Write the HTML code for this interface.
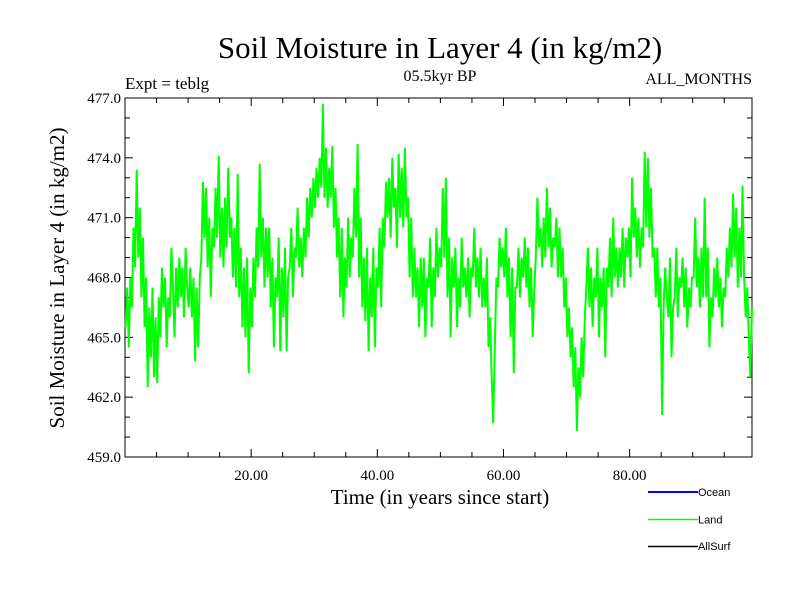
<!DOCTYPE html>
<html><head><meta charset="utf-8"><style>
body{margin:0;background:#fff}
svg text{font-family:"Liberation Serif",serif}
</style></head><body>
<svg id="chart" width="800" height="600" viewBox="0 0 800 600" xmlns="http://www.w3.org/2000/svg">
<rect width="800" height="600" fill="#fff"/>
<text x="440" y="58" font-size="31" text-anchor="middle">Soil Moisture in Layer 4 (in kg/m2)</text>
<text x="125" y="89" font-size="17">Expt = teblg</text>
<text x="440" y="81" font-size="16" text-anchor="middle">05.5kyr BP</text>
<text x="752" y="84" font-size="16" text-anchor="end">ALL_MONTHS</text>
<text transform="translate(64,278) rotate(-90)" font-size="21" text-anchor="middle">Soil Moisture in Layer 4 (in kg/m2)</text>
<text x="440" y="504" font-size="21" text-anchor="middle">Time (in years since start)</text>
<g id="axes"></g>
<g id="series"></g>
<g>
<line x1="648" y1="492" x2="698" y2="492" stroke="#0000ff" stroke-width="2"/>
<text x="698" y="496" font-size="11" style="font-family:'Liberation Sans',sans-serif">Ocean</text>
<line x1="648" y1="519.5" x2="698" y2="519.5" stroke="#00ff00" stroke-width="1.5"/>
<text x="698" y="523.5" font-size="11" style="font-family:'Liberation Sans',sans-serif">Land</text>
<line x1="648" y1="546.5" x2="698" y2="546.5" stroke="#000000" stroke-width="1.5"/>
<text x="698" y="550" font-size="11" style="font-family:'Liberation Sans',sans-serif">AllSurf</text>
</g>
</svg>
<script>
const yTicks = [459, 462, 465, 468, 471, 474, 477];
const yTickLabels = ["459.0","462.0","465.0","468.0","471.0","474.0","477.0"];
const xTicks = [20, 40, 60, 80];
const xTickLabels = ["20.00","40.00","60.00","80.00"];
const landValues = [
465.5,467.5,464.5,468.0, 466.5,470.5,468.5,473.4, 469.0,471.5,467.0,470.0, 465.5,468.0,462.5,466.5,
464.0,467.5,463.0,466.0, 462.7,467.0,465.0,468.5, 466.5,468.0,464.5,467.0, 466.0,469.5,467.5,465.0,
468.5,466.5,469.0,467.0, 468.5,466.0,469.5,467.5, 466.5,468.5,466.0,468.0, 463.8,467.5,464.5,468.0,
469.0,472.8,470.0,472.5, 468.5,471.0,467.0,470.5, 469.5,472.5,470.0,474.1, 469.0,471.5,468.5,472.0,
469.5,473.5,470.0,471.0, 468.0,470.5,467.5,473.2, 467.0,469.5,465.5,468.5, 465.0,469.0,463.2,467.5,
465.5,469.0,467.0,470.5, 468.5,473.7,469.0,471.0, 467.5,470.5,468.0,470.5, 466.5,469.0,464.5,468.0,
467.0,470.0,464.3,468.5, 466.0,469.5,464.3,468.0, 468.5,470.5,467.0,469.5, 469.0,471.5,468.5,470.0,
468.0,470.5,469.0,472.0, 470.0,472.5,471.0,473.0, 471.5,473.5,472.0,474.0, 472.5,476.7,472.0,474.5,
471.5,473.5,472.0,474.6, 470.5,472.5,469.0,471.0, 467.0,470.5,466.0,469.0, 467.5,471.0,468.0,470.0,
469.0,472.5,470.0,474.7, 468.0,471.0,466.5,469.0, 465.8,469.5,464.3,468.0, 466.0,469.5,464.5,468.5,
467.5,470.5,466.5,471.0, 469.5,472.8,471.0,473.0, 470.0,474.0,471.5,472.5, 469.5,474.2,471.0,473.5,
470.5,474.5,471.0,472.0, 468.0,471.0,467.0,469.5, 467.0,468.5,465.5,469.0, 466.5,469.0,465.0,468.0,
467.5,470.0,465.5,468.5, 467.0,470.5,468.0,469.5, 468.5,472.5,469.0,473.0, 467.0,470.0,465.0,469.0,
467.5,469.5,465.5,468.0, 466.5,470.0,467.5,468.5, 467.0,469.0,466.0,468.5, 468.0,470.5,467.5,469.0,
467.0,469.5,466.5,468.0, 466.5,469.0,464.5,466.0, 463.0,460.7,464.5,468.0, 467.5,470.0,468.5,469.5,
468.0,470.5,467.0,469.0, 465.0,468.5,463.2,467.5, 467.5,469.5,467.0,469.0, 468.0,470.0,467.5,469.5,
466.5,468.5,465.0,467.5, 469.0,472.0,469.5,470.5, 468.5,471.0,469.0,472.5, 469.5,471.5,468.5,470.0,
469.5,471.0,468.0,470.5, 468.0,469.5,466.5,468.0, 465.0,466.5,464.0,465.5, 462.5,464.5,460.3,463.5,
462.0,465.0,463.0,466.0, 467.5,469.5,466.5,468.5, 465.5,468.0,467.0,469.5, 465.0,468.0,466.5,468.5,
464.0,468.5,467.5,470.0, 467.0,471.0,468.0,469.5, 467.5,469.5,468.0,470.5, 467.5,470.0,469.0,470.5,
468.0,473.0,470.0,471.5, 469.0,471.0,468.5,470.5, 469.5,474.3,470.5,474.0, 470.0,472.5,469.0,469.5,
467.0,469.5,466.5,468.0, 461.1,466.5,468.5,467.0, 466.0,469.0,464.0,466.5, 467.0,469.5,466.0,468.0,
467.5,469.0,466.5,468.5, 465.5,467.5,466.5,468.0, 468.0,471.0,467.5,469.0, 466.5,469.5,467.0,472.0,
467.0,469.5,464.5,467.0, 466.0,468.5,467.0,469.0, 466.5,468.0,465.5,467.5, 467.0,469.5,468.0,470.5,
468.5,472.2,469.0,471.5, 467.5,470.5,468.0,472.6, 468.0,466.0,467.5,465.0, 463.0,466.5
];
const xMin = 0, xMax = 99.4, yMin = 459, yMax = 477;
const L = 125, R = 752, T = 98, B = 457;
const NS = 'http://www.w3.org/2000/svg';
function xs(v){ return L + (v - xMin) / (xMax - xMin) * (R - L); }
function ys(v){ return B - (v - yMin) / (yMax - yMin) * (B - T); }
function mk(tag, attrs, parent){ const e = document.createElementNS(NS, tag); for (const k in attrs) e.setAttribute(k, attrs[k]); parent.appendChild(e); return e; }
const axes = document.getElementById('axes');
const frame = mk('rect', {x:L, y:T, width:R-L, height:B-T, fill:'none', stroke:'#000', 'stroke-width':1}, axes);


for (let v = yMin; v <= yMax; v += 1) {
  const major = (v - yMin) % 3 === 0;
  const len = major ? 8 : 5;
  const a = mk('line', {x1:L, y1:ys(v), x2:L+len, y2:ys(v), stroke:'#000'}, axes);
  
  
  const b = mk('line', {x1:R, y1:ys(v), x2:R-len, y2:ys(v), stroke:'#000'}, axes);
  
  
}
yTicks.forEach((v, i) => {
  const t = mk('text', {x:L-4, y:ys(v)+5, 'font-size':15, 'text-anchor':'end'}, axes);
  t.textContent = yTickLabels[i];
  
  
});
for (let v = 5; v < xMax; v += 5) {
  const major = v % 20 === 0;
  const len = major ? 8 : 5;
  const a = mk('line', {x1:xs(v), y1:B, x2:xs(v), y2:B-len, stroke:'#000'}, axes);
  
  
  const b = mk('line', {x1:xs(v), y1:T, x2:xs(v), y2:T+len, stroke:'#000'}, axes);
  
  
}
xTicks.forEach((v, i) => {
  const t = mk('text', {x:xs(v), y:B+23, 'font-size':15, 'text-anchor':'middle'}, axes);
  t.textContent = xTickLabels[i];
  
  
});
const n = landValues.length;
const pts = landValues.map((v, i) => xs(0.1 + i * (xMax - 0.1) / (n - 1)).toFixed(1) + ',' + ys(v).toFixed(1)).join(' ');
const line = mk('polyline', {points:pts, fill:'none', stroke:'#00ff00', 'stroke-width':2, 'stroke-linejoin':'miter'}, document.getElementById('series'));


</script>
</body></html>
